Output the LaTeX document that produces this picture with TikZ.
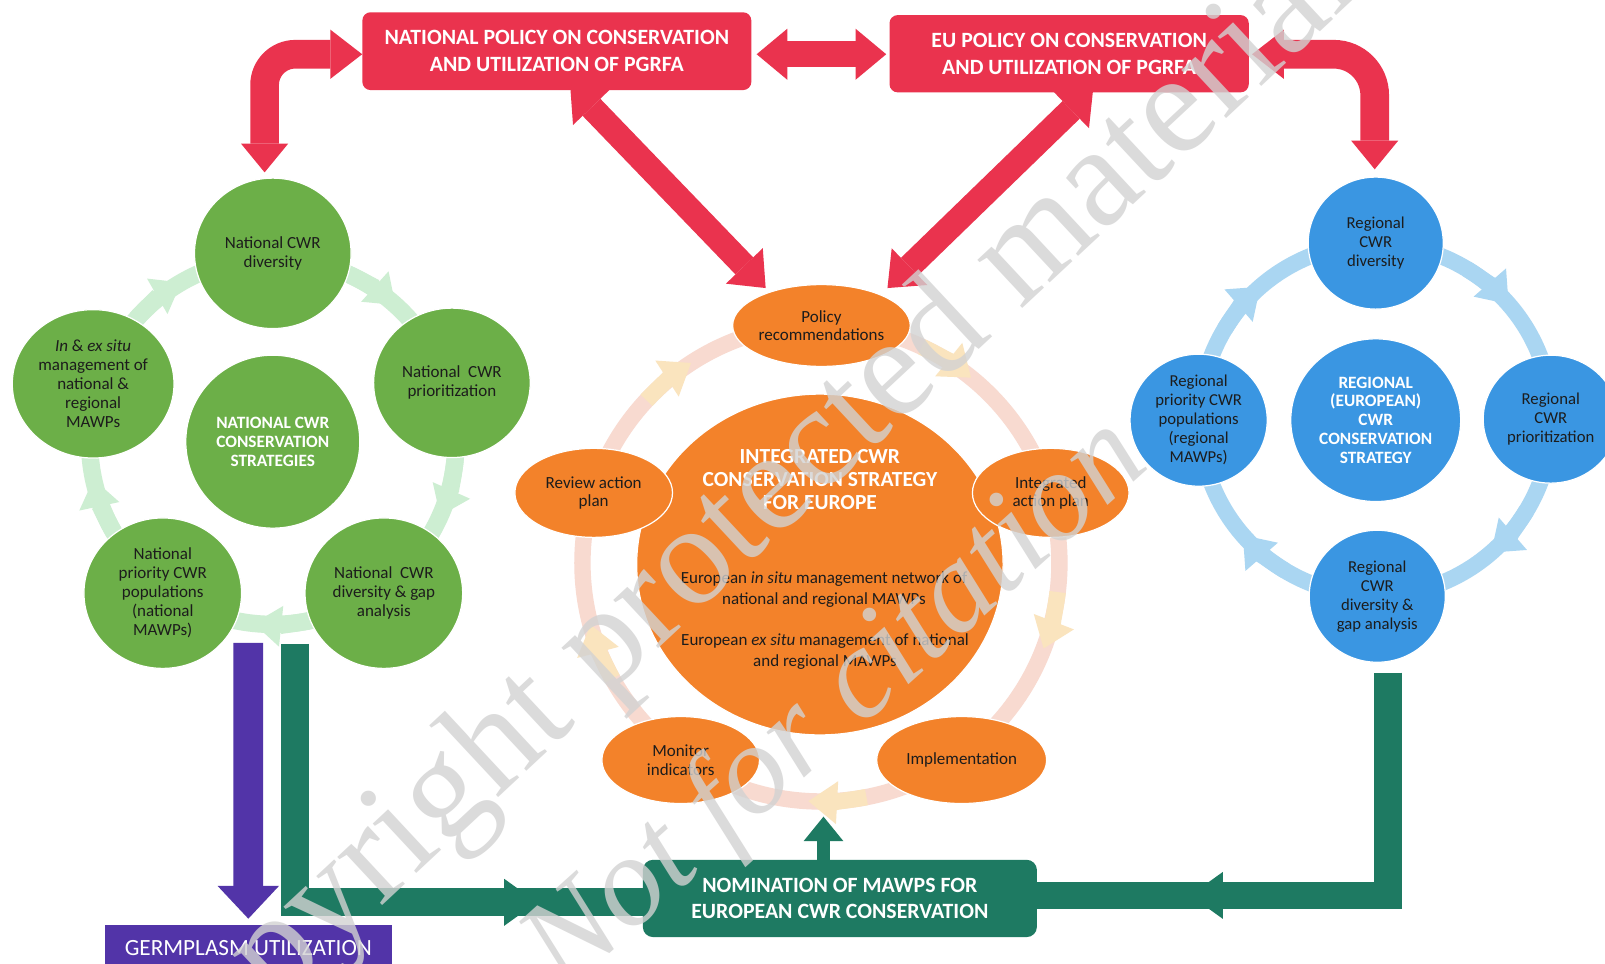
\documentclass[tikz,border=0pt]{standalone}
\usepackage{fontspec}
\setmainfont{Carlito}
\newfontfamily\wmfont{Liberation Serif}
\usetikzlibrary{arrows.meta,shapes.geometric,decorations.markings}
\pgfdeclarelayer{bgl}
\pgfdeclarelayer{arl}
\pgfsetlayers{bgl,arl,main}
\definecolor{cred}{RGB}{234,51,78}
\definecolor{cgreen}{RGB}{108,175,72}
\definecolor{cgreenl}{RGB}{205,238,210}
\definecolor{cblue}{RGB}{58,150,226}
\definecolor{cbluel}{RGB}{170,214,242}
\definecolor{corange}{RGB}{243,130,42}
\definecolor{cpink}{RGB}{248,218,208}
\definecolor{cyell}{RGB}{250,228,190}
\definecolor{cteal}{RGB}{30,122,98}
\definecolor{cpurple}{RGB}{82,52,168}
\definecolor{ctext}{RGB}{28,28,28}
\definecolor{wmgray}{RGB}{210,210,210}
\tikzset{
  sz/.style 2 args={minimum width=#1pt,minimum height=#2pt},
  base/.style={inner sep=0pt,align=center},
  gnode/.style={base,ellipse,fill=cgreen,draw=white,line width=1.2pt,text=ctext,font=\fontsize{16.6}{18.6}\selectfont},
  bnode/.style={base,ellipse,fill=cblue,draw=white,line width=1.2pt,text=ctext,font=\fontsize{16.3}{18.5}\selectfont},
  onode/.style={base,ellipse,fill=corange,draw=white,line width=1.2pt,text=ctext,font=\fontsize{16.6}{18}\selectfont},
  hub/.style={text=white,font=\bfseries\fontsize{16.9}{18.4}\selectfont},
  redbox/.style={base,rectangle,rounded corners=8pt,fill=cred,text=white,font=\bfseries\fontsize{21.3}{26}\selectfont},
  tealbox/.style={base,rectangle,rounded corners=10pt,fill=cteal,text=white,font=\bfseries\fontsize{21.3}{26}\selectfont},
  purbox/.style={base,rectangle,fill=cpurple,text=white,font=\fontsize{22.7}{26}\selectfont},
  redarr/.style={draw=cred,line width=25pt,{Triangle[width=50pt,length=30pt,line width=0pt]}-{Triangle[width=50pt,length=30pt,line width=0pt]}},
  redcorner/.style={draw=cred,line width=28pt,{Triangle[width=48pt,length=31pt,line width=0pt]}-{Triangle[width=46pt,length=28pt,line width=0pt]}},
  tealpath/.style={draw=cteal,line width=27pt},
  midhead/.style={postaction={decorate},decoration={markings,mark=at position #1 with {\arrow{Triangle[width=46pt,length=32pt,line width=0pt]}}}},
  tealup/.style={draw=cteal,line width=13pt,-{Triangle[width=39pt,length=24pt,line width=0pt]}},
  purarr/.style={draw=cpurple,line width=29pt,-{Triangle[width=60pt,length=32pt,line width=0pt]}},
  gring/.style={draw=cgreenl,line width=17pt},
  bring/.style={draw=cbluel,line width=16pt},
  oring/.style={draw=cpink,line width=16pt},
  wm/.style={inner sep=0pt,text=wmgray,text opacity=0.8,font=\wmfont\fontsize{140}{140}\selectfont}
}
\begin{document}
\begin{tikzpicture}[x=1pt,y=-1pt]
\useasboundingbox (0,0) rectangle (1568,941);
\begin{pgfonlayer}{bgl}
\fill[white] (0,0) rectangle (1568,941);
\end{pgfonlayer}

% ring centres
\coordinate (gc) at (266.5,431);
\coordinate (bc) at (1344,410);
\coordinate (oc) at (802,550);

% rings
\draw[gring] (gc) circle[radius=179];
\foreach \a in {-52,20,92,164,236}
  \draw[draw=cgreenl,line width=17pt,-{Triangle[width=40pt,length=27pt,line width=0pt]}]
    ([shift={(\a-14:179)}]gc) arc[start angle=\a-14,end angle=\a+4,radius=179];
\draw[bring] (bc) circle[radius=172];
\foreach \a in {-45,45,135,225}
  \draw[draw=cbluel,line width=16pt,-{Triangle[width=42pt,length=28pt,line width=0pt]}]
    ([shift={(\a-14:172)}]bc) arc[start angle=\a-14,end angle=\a+4,radius=172];
\draw[oring] (oc) circle[radius=233];
\foreach \a in {-54,18,90,162,234}
  \draw[draw=cyell,line width=16pt,-{Triangle[width=42pt,length=28pt,line width=0pt]}]
    ([shift={(\a-11:233)}]oc) arc[start angle=\a-11,end angle=\a+3,radius=233];

% green cluster
\node[gnode,sz={153}{147}] (ndiv) at (266.5,247.5) {National CWR\\diversity};
\node[gnode,sz={153}{146}] (nprio) at (441.5,374) {National\ \ CWR\\prioritization};
\node[gnode,sz={154}{147}] (ngap) at (375,579.5) {National\ \ CWR\\diversity \& gap\\analysis};
\node[gnode,sz={154}{147}] (npop) at (159,579.5) {National\\priority CWR\\populations\\(national\\MAWPs)};
\node[gnode,sz={158}{145}] (ninex) at (91,375) {\textit{In} \& \textit{ex situ}\\management of\\national \&\\regional\\MAWPs};
\node[gnode,hub,sz={170}{169}] (ncen) at (266.5,431.5) {NATIONAL CWR\\CONSERVATION\\STRATEGIES};

% blue cluster
\node[bnode,sz={132}{129}] (rdiv) at (1344,237.5) {Regional\\CWR\\diversity};
\node[bnode,sz={132}{125}] (rprio) at (1515,409.5) {Regional\\CWR\\prioritization};
\node[bnode,sz={133}{129}] (rgap) at (1345.5,582.5) {Regional\\CWR\\diversity \&\\gap analysis};
\node[bnode,sz={134}{129}] (rpop) at (1171,410.5) {Regional\\priority CWR\\populations\\(regional\\MAWPs)};
\node[bnode,hub,sz={166}{159}] (rcen) at (1344,410.5) {REGIONAL\\(EUROPEAN)\\CWR\\CONSERVATION\\STRATEGY};

% orange cluster
\node[onode,sz={358}{333}] (ocen) at (801,551.5) {};
\node[base,text=white,font=\bfseries\fontsize{21}{22.5}\selectfont] (otitle) at (801,468.5) {INTEGRATED CWR\\CONSERVATION STRATEGY\\FOR EUROPE};
\node[base,text=ctext,font=\fontsize{16.6}{20.5}\selectfont] (obody1) at (805,575.5) {European \textit{in situ} management network of\\national and regional MAWPs};
\node[base,text=ctext,font=\fontsize{16.6}{20.5}\selectfont] (obody2) at (806,636.5) {European \textit{ex situ} management of national\\and regional MAWPs};
\node[onode,sz={173}{80}] (polrec) at (802.5,318) {Policy\\recommendations};
\node[onode,sz={154}{87}] (review) at (580,481.5) {Review action\\plan};
\node[onode,sz={153}{87}] (intplan) at (1026.5,481.5) {Integrated\\action plan};
\node[onode,sz={154}{85}] (monitor) at (665,742.5) {Monitor\\indicators};
\node[onode,sz={166}{85}] (impl) at (939.5,742.5) {Implementation};

% policy boxes and red arrows (arrows on a layer below)
\node[redbox,sz={380}{76}] (natpol) at (544,50) {NATIONAL POLICY ON CONSERVATION\\AND UTILIZATION OF PGRFA};
\node[redbox,sz={351}{75.5}] (eupol) at (1044.5,52.5) {EU POLICY ON CONSERVATION\\AND UTILIZATION OF PGRFA};
\begin{pgfonlayer}{arl}
\draw[redarr,line width=24pt] ([shift={(13,-5)}]natpol.south) -- ([shift={(-54.5,4)}]polrec.north);
\draw[redarr,line width=24pt] ([shift={(23.5,-4)}]eupol.south) -- ([shift={(64.5,4)}]polrec.north);
\end{pgfonlayer}
\draw[redcorner,rounded corners=30pt] ([shift={(0,3)}]natpol.west) -| ([shift={(-8,-5)}]ndiv.north);
\draw[redarr] ([shift={(5,3)}]natpol.east) -- ([shift={(-3,0.5)}]eupol.west);
\draw[redcorner,rounded corners=40pt] ([shift={(3,0.5)}]eupol.east) -| ([shift={(-1,-7)}]rdiv.north);

% teal nomination
\node[tealbox,sz={385}{75.5}] (nom) at (820.5,877.75) {NOMINATION OF MAWPS FOR\\EUROPEAN CWR CONSERVATION};
\coordinate (tealL) at (288,629);
\coordinate (tealR) at (1356,657);
\begin{pgfonlayer}{arl}
\draw[tealpath,midhead=489pt] (tealL) |- ([shift={(2,3.75)}]nom.west);
\draw[tealpath,midhead=411pt] (tealR) |- ([shift={(-2,-3)}]nom.east);
\end{pgfonlayer}
\draw[tealup] ([shift={(-16,1)}]nom.north) -- ([shift={(-16,-42)}]nom.north);

% germplasm
\node[purbox,sz={280}{44}] (germ) at (242.6,925.7) {GERMPLASM UTILIZATION};
\coordinate (purS) at (242.5,628);
\draw[purarr] (purS) -- ([shift={(0,-6)}]germ.north);

% watermark
\node[wm,rotate=43] (wm1) at (718,518) {Copyright protected material};
\node[wm,rotate=42,font=\wmfont\itshape\fontsize{125}{125}\selectfont] (wm2) at (818,690) {Not for citation};
\end{tikzpicture}
\end{document}
